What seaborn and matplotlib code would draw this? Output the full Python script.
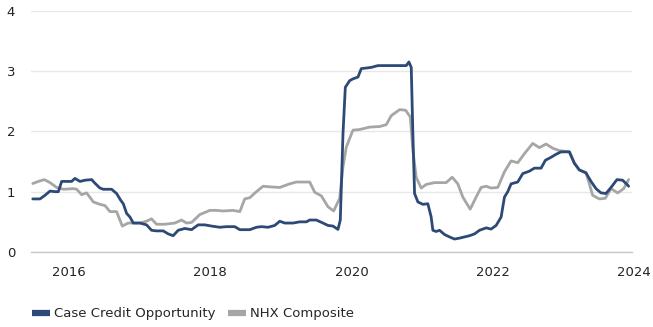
import matplotlib
matplotlib.use("Agg")
import matplotlib.pyplot as plt
import matplotlib.transforms as mtransforms
import seaborn as sns
import pandas as pd
from matplotlib.lines import Line2D

sns.set_theme(style="white")
plt.rcParams['font.family'] = ['DejaVu Sans']

series_names = ["Case Credit Opportunity", "NHX Composite"]
colors = ["#2d4a77", "#a6a6a6"]

ccp_x = [2015.770, 2015.873, 2015.943, 2016.014, 2016.085, 2016.132, 2016.179, 2016.250,
         2016.320, 2016.367, 2016.438, 2016.509, 2016.603, 2016.650, 2016.721, 2016.768,
         2016.886, 2016.956, 2017.013, 2017.051, 2017.098, 2017.145, 2017.192, 2017.286,
         2017.380, 2017.451, 2017.522, 2017.616, 2017.687, 2017.757, 2017.828, 2017.922,
         2018.017, 2018.111, 2018.205, 2018.299, 2018.417, 2018.511, 2018.629, 2018.700,
         2018.841, 2018.935, 2019.006, 2019.100, 2019.194, 2019.265, 2019.336, 2019.453,
         2019.548, 2019.642, 2019.689, 2019.783, 2019.877, 2019.948, 2020.018, 2020.089,
         2020.122, 2020.160, 2020.193, 2020.254, 2020.301, 2020.372, 2020.419, 2020.490,
         2020.560, 2020.654, 2020.772, 2020.914, 2021.055, 2021.093, 2021.126, 2021.149,
         2021.173, 2021.220, 2021.291, 2021.361, 2021.408, 2021.432, 2021.479, 2021.526,
         2021.597, 2021.667, 2021.738, 2021.809, 2021.880, 2021.950, 2022.021, 2022.092,
         2022.186, 2022.256, 2022.327, 2022.398, 2022.445, 2022.492, 2022.539, 2022.633,
         2022.704, 2022.798, 2022.869, 2022.963, 2023.024, 2023.104, 2023.175, 2023.246,
         2023.364, 2023.434, 2023.505, 2023.599, 2023.670, 2023.741, 2023.811, 2023.882,
         2023.953, 2024.037, 2024.117, 2024.188, 2024.202]
ccp_y = [0.88, 0.88, 0.94, 1.01, 1.00, 1.00, 1.17, 1.17,
         1.17, 1.22, 1.17, 1.19, 1.20, 1.14, 1.06, 1.04,
         1.04, 0.97, 0.86, 0.80, 0.64, 0.58, 0.48, 0.48,
         0.45, 0.36, 0.35, 0.35, 0.30, 0.27, 0.36, 0.39,
         0.37, 0.45, 0.45, 0.43, 0.41, 0.42, 0.42, 0.37,
         0.37, 0.41, 0.42, 0.41, 0.44, 0.51, 0.48, 0.48,
         0.50, 0.50, 0.53, 0.53, 0.48, 0.44, 0.43, 0.375,
         0.53, 1.96, 2.73, 2.84, 2.87, 2.90, 3.04, 3.05,
         3.06, 3.09, 3.09, 3.09, 3.09, 3.15, 3.06, 1.96,
         0.97, 0.83, 0.79, 0.80, 0.58, 0.36, 0.34, 0.36,
         0.29, 0.25, 0.215, 0.23, 0.25, 0.27, 0.30, 0.36,
         0.40, 0.38, 0.44, 0.58, 0.91, 1.00, 1.13, 1.16,
         1.30, 1.34, 1.39, 1.39, 1.52, 1.57, 1.62, 1.66,
         1.66, 1.47, 1.36, 1.31, 1.17, 1.05, 0.98, 0.97,
         1.07, 1.20, 1.19, 1.11, 1.09]

nhx_x = [2015.770, 2015.849, 2015.934, 2016.014, 2016.108, 2016.203, 2016.344, 2016.391,
         2016.462, 2016.532, 2016.627, 2016.721, 2016.792, 2016.862, 2016.956, 2017.037,
         2017.121, 2017.286, 2017.380, 2017.451, 2017.522, 2017.640, 2017.781, 2017.875,
         2017.946, 2018.017, 2018.134, 2018.276, 2018.370, 2018.464, 2018.605, 2018.700,
         2018.770, 2018.841, 2018.935, 2019.029, 2019.124, 2019.265, 2019.406, 2019.501,
         2019.689, 2019.760, 2019.854, 2019.948, 2020.028, 2020.113, 2020.160, 2020.207,
         2020.301, 2020.395, 2020.537, 2020.678, 2020.772, 2020.843, 2020.961, 2021.046,
         2021.112, 2021.149, 2021.196, 2021.267, 2021.338, 2021.455, 2021.620, 2021.705,
         2021.785, 2021.856, 2021.960, 2022.044, 2022.115, 2022.186, 2022.256, 2022.351,
         2022.445, 2022.539, 2022.633, 2022.728, 2022.845, 2022.940, 2023.034, 2023.128,
         2023.222, 2023.364, 2023.434, 2023.505, 2023.599, 2023.693, 2023.788, 2023.872,
         2023.953, 2024.047, 2024.132, 2024.202]
nhx_y = [1.135, 1.17, 1.20, 1.15, 1.07, 1.04, 1.05, 1.04,
         0.95, 0.98, 0.83, 0.79, 0.77, 0.67, 0.67, 0.43,
         0.48, 0.48, 0.51, 0.55, 0.46, 0.46, 0.48, 0.53,
         0.48, 0.49, 0.62, 0.69, 0.69, 0.68, 0.69, 0.67,
         0.88, 0.90, 1.00, 1.09, 1.08, 1.07, 1.13, 1.16,
         1.16, 0.99, 0.93, 0.75, 0.68, 0.89, 1.41, 1.74,
         2.02, 2.03, 2.07, 2.08, 2.11, 2.26, 2.36, 2.35,
         2.24, 1.69, 1.24, 1.06, 1.12, 1.15, 1.15, 1.24,
         1.13, 0.91, 0.71, 0.91, 1.07, 1.09, 1.06, 1.07,
         1.33, 1.51, 1.48, 1.63, 1.80, 1.73, 1.79, 1.72,
         1.68, 1.66, 1.48, 1.36, 1.32, 0.94, 0.88, 0.89,
         1.05, 0.98, 1.05, 1.20]

year_ticks = [2016, 2018, 2020, 2022, 2024]
y_ticks = [0, 1, 2, 3, 4]

df = pd.concat([
    pd.DataFrame({"x": ccp_x, "y": ccp_y, "series": series_names[0]}),
    pd.DataFrame({"x": nhx_x, "y": nhx_y, "series": series_names[1]}),
])

fig = plt.figure(figsize=(6.53, 3.27), dpi=100)
ax = fig.add_axes([31 / 653, 1 - 252 / 327, 601 / 653, (252 - 10.7) / 327])

sns.lineplot(data=df, x="x", y="y", hue="series", hue_order=series_names[::-1],
             palette={series_names[0]: colors[0], series_names[1]: colors[1]},
             estimator=None, sort=True, linewidth=2.0, ax=ax, legend=False)

ax.set_xlim(2015.745, 2024.25)
ax.set_ylim(0, 4)
ax.set_xticks(year_ticks)
ax.set_xticklabels([str(t) for t in year_ticks])
ax.set_yticks(y_ticks)
ax.set_yticklabels([str(t) for t in y_ticks])
ax.set_xlabel("")
ax.set_ylabel("")
for s in ["top", "right", "left"]:
    ax.spines[s].set_visible(False)
ax.spines["bottom"].set_color("#c8c8c8")
ax.spines["bottom"].set_linewidth(1.0)
ax.grid(axis="y", color="#e8e8e8", linewidth=1.0)
ax.grid(axis="x", visible=False)
ax.set_axisbelow(True)
ax.tick_params(axis="x", direction="out", length=4, width=1, color="#c8c8c8",
               labelsize=9.5, labelcolor="#222222", pad=6)
ax.tick_params(axis="y", length=0, labelsize=9.5, labelcolor="#222222", pad=11.5)
ax.set_facecolor("white")

# x labels sit just to the right of their tick marks
shift = mtransforms.ScaledTranslation(3 / 100, 0, fig.dpi_scale_trans)
for tick in ax.xaxis.get_major_ticks():
    tick.label1.set_horizontalalignment("left")
    tick.label1.set_transform(tick.label1.get_transform() + shift)

handles = [Line2D([0], [0], color=colors[0], lw=4.5, solid_capstyle="butt"),
           Line2D([0], [0], color=colors[1], lw=4.5, solid_capstyle="butt")]
fig.legend(handles, series_names, loc="center left", bbox_to_anchor=(32 / 653, 1 - 314 / 327),
           ncol=2, frameon=False, fontsize=9.5, handlelength=1.37, handletextpad=0.3,
           columnspacing=0.95, borderaxespad=0, borderpad=0)

fig.savefig("out.png", dpi=100, facecolor="white")
